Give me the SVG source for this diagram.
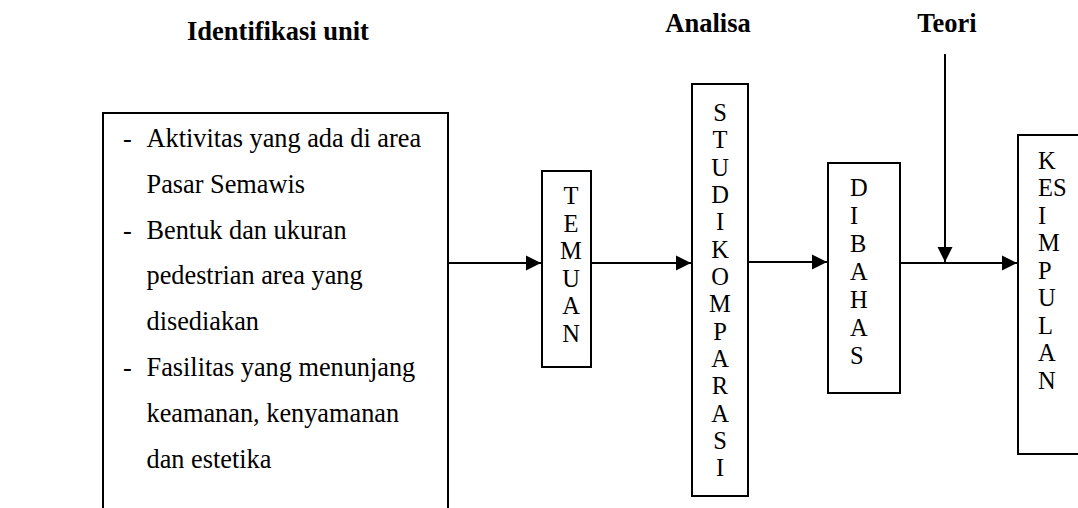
<svg xmlns="http://www.w3.org/2000/svg" width="1078" height="508" viewBox="0 0 1078 508">
<defs>
<style>
.box{fill:#fff;stroke:#000;stroke-width:2}
.t{font-family:"Liberation Serif","Times New Roman",serif;font-size:26.3px;fill:#000}
.h{font-family:"Liberation Serif","Times New Roman",serif;font-size:26.5px;font-weight:bold;fill:#000;text-anchor:middle}
.v{font-family:"Liberation Serif","Times New Roman",serif;font-size:24.5px;fill:#000}
.c{stroke:#000;stroke-width:2;fill:none;marker-end:url(#ah)}
</style>
<marker id="ah" markerUnits="userSpaceOnUse" markerWidth="16" markerHeight="16" viewBox="0 0 16 16" refX="15" refY="8" orient="auto">
<path d="M0,0.5 L15,8 L0,15.5 Z" fill="#000"/>
</marker>
</defs>
<rect width="1078" height="508" fill="#fff"/>
<g id="headings">
<text class="h" x="278" y="40">Identifikasi unit</text>
<text class="h" x="708" y="32">Analisa</text>
<text class="h" x="947" y="32">Teori</text>
</g>
<g id="identifikasi">
<rect class="box" x="103" y="113" width="345" height="420"/>
<text class="t" x="123" y="147">-</text>
<text class="t" x="146.5" y="147">Aktivitas yang ada di area</text>
<text class="t" x="146.5" y="192.8">Pasar Semawis</text>
<text class="t" x="123" y="238.6">-</text>
<text class="t" x="146.5" y="238.6">Bentuk dan ukuran</text>
<text class="t" x="146.5" y="284.4">pedestrian area yang</text>
<text class="t" x="146.5" y="330.2">disediakan</text>
<text class="t" x="123" y="376">-</text>
<text class="t" x="146.5" y="376">Fasilitas yang menunjang</text>
<text class="t" x="146.5" y="421.8">keamanan, kenyamanan</text>
<text class="t" x="146.5" y="467.6">dan estetika</text>
</g>
<g id="temuan">
<rect class="box" x="542" y="171" width="49" height="196"/>
<text class="v" text-anchor="middle" x="571"><tspan x="571" y="204">T</tspan><tspan x="571" y="231.5">E</tspan><tspan x="571" y="259">M</tspan><tspan x="571" y="286.5">U</tspan><tspan x="571" y="314">A</tspan><tspan x="571" y="341.5">N</tspan></text>
</g>
<g id="studikomparasi">
<rect class="box" x="692" y="84" width="56" height="412"/>
<text class="v" text-anchor="middle" x="720"><tspan x="720" y="121">S</tspan><tspan x="720" y="148.3">T</tspan><tspan x="720" y="175.6">U</tspan><tspan x="720" y="203">D</tspan><tspan x="720" y="230.3">I</tspan><tspan x="720" y="257.6">K</tspan><tspan x="720" y="285">O</tspan><tspan x="720" y="312.3">M</tspan><tspan x="720" y="339.6">P</tspan><tspan x="720" y="367">A</tspan><tspan x="720" y="394.3">R</tspan><tspan x="720" y="421.6">A</tspan><tspan x="720" y="449">S</tspan><tspan x="720" y="476.3">I</tspan></text>
</g>
<g id="dibahas">
<rect class="box" x="828" y="163" width="72" height="230"/>
<text class="v" x="850"><tspan x="850" y="196">D</tspan><tspan x="850" y="224">I</tspan><tspan x="850" y="252">B</tspan><tspan x="850" y="280">A</tspan><tspan x="850" y="308">H</tspan><tspan x="850" y="336">A</tspan><tspan x="850" y="364">S</tspan></text>
</g>
<g id="kesimpulan">
<rect class="box" x="1018" y="135" width="80" height="319"/>
<text class="v" x="1038"><tspan x="1038" y="168.5">K</tspan><tspan x="1038" y="196">ES</tspan><tspan x="1038" y="223.5">I</tspan><tspan x="1038" y="251">M</tspan><tspan x="1038" y="278.5">P</tspan><tspan x="1038" y="306">U</tspan><tspan x="1038" y="333.5">L</tspan><tspan x="1038" y="361">A</tspan><tspan x="1038" y="388.5">N</tspan></text>
</g>
<g id="connectors">
<line class="c" x1="448" y1="263" x2="541" y2="263"/>
<line class="c" x1="591" y1="263" x2="691" y2="263"/>
<line class="c" x1="748" y1="262" x2="827" y2="262"/>
<line class="c" x1="900" y1="263" x2="1017" y2="263"/>
<line class="c" x1="945" y1="54" x2="945" y2="262"/>
</g>
</svg>
